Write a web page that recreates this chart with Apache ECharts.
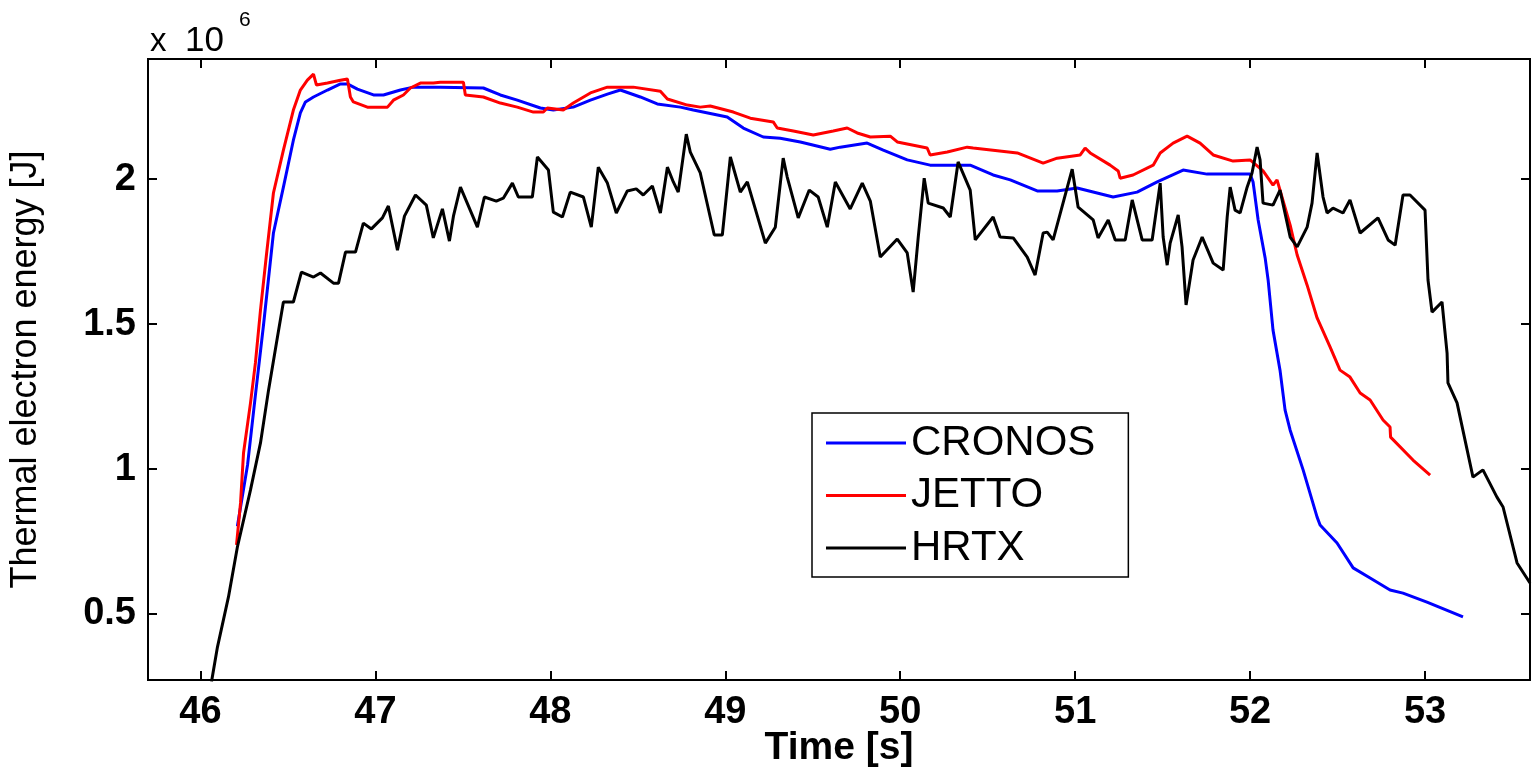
<!DOCTYPE html>
<html>
<head>
<meta charset="utf-8">
<script src="https://cdn.jsdelivr.net/npm/echarts@6/dist/echarts.min.js"></script>
<style>
  html, body { margin: 0; padding: 0; background: #fff; }
  #chart { width: 1533px; height: 768px; }
</style>
</head>
<body>
<div id="chart"></div>
<script>
// Thermal electron energy (units of 10^6 J) against time (s)
const cronosTime = [46.211, 46.269, 46.314, 46.36, 46.417, 46.474, 46.531, 46.571, 46.6, 46.646, 46.726, 46.8, 46.84, 46.897, 46.989, 47.046, 47.143, 47.217, 47.371, 47.617, 47.714, 47.811, 47.943, 48.017, 48.131, 48.229, 48.326, 48.4, 48.514, 48.611, 48.743, 48.817, 49.011, 49.103, 49.217, 49.314, 49.429, 49.6, 49.657, 49.811, 49.903, 50.04, 50.171, 50.4, 50.531, 50.629, 50.783, 50.897, 51.011, 51.217, 51.354, 51.469, 51.617, 51.754, 52.0, 52.017, 52.046, 52.086, 52.103, 52.131, 52.171, 52.2, 52.229, 52.303, 52.383, 52.4, 52.497, 52.589, 52.686, 52.8, 52.874, 53.011, 53.217];
const cronosEnergy = [0.803, 1.014, 1.255, 1.495, 1.814, 1.972, 2.134, 2.228, 2.266, 2.283, 2.307, 2.328, 2.328, 2.31, 2.29, 2.29, 2.307, 2.317, 2.317, 2.314, 2.29, 2.272, 2.245, 2.238, 2.248, 2.272, 2.293, 2.307, 2.283, 2.259, 2.248, 2.238, 2.214, 2.176, 2.145, 2.141, 2.128, 2.103, 2.11, 2.124, 2.1, 2.066, 2.048, 2.048, 2.014, 1.997, 1.959, 1.959, 1.969, 1.938, 1.955, 1.99, 2.031, 2.017, 2.017, 1.99, 1.859, 1.728, 1.652, 1.479, 1.341, 1.203, 1.134, 0.997, 0.834, 0.807, 0.745, 0.659, 0.624, 0.583, 0.572, 0.541, 0.49];

const jettoTime = [46.206, 46.229, 46.246, 46.286, 46.314, 46.343, 46.377, 46.417, 46.474, 46.531, 46.571, 46.611, 46.646, 46.663, 46.726, 46.8, 46.84, 46.857, 46.874, 46.954, 47.069, 47.103, 47.16, 47.2, 47.257, 47.331, 47.371, 47.503, 47.514, 47.617, 47.714, 47.811, 47.903, 47.96, 47.983, 48.074, 48.131, 48.229, 48.326, 48.474, 48.629, 48.669, 48.783, 48.857, 48.914, 49.046, 49.143, 49.274, 49.297, 49.389, 49.503, 49.617, 49.697, 49.754, 49.829, 49.943, 49.983, 50.154, 50.171, 50.269, 50.383, 50.417, 50.669, 50.817, 50.897, 51.029, 51.057, 51.086, 51.2, 51.246, 51.257, 51.331, 51.446, 51.486, 51.56, 51.64, 51.714, 51.789, 51.903, 52.0, 52.074, 52.131, 52.154, 52.171, 52.229, 52.269, 52.326, 52.383, 52.457, 52.514, 52.571, 52.629, 52.686, 52.76, 52.8, 52.803, 52.931, 53.029];
const jettoEnergy = [0.738, 0.883, 1.055, 1.228, 1.366, 1.548, 1.738, 1.952, 2.1, 2.238, 2.307, 2.341, 2.362, 2.324, 2.331, 2.341, 2.345, 2.283, 2.266, 2.248, 2.248, 2.272, 2.29, 2.314, 2.331, 2.331, 2.334, 2.334, 2.29, 2.283, 2.262, 2.248, 2.231, 2.231, 2.245, 2.238, 2.262, 2.297, 2.317, 2.317, 2.303, 2.276, 2.255, 2.248, 2.252, 2.231, 2.21, 2.197, 2.176, 2.166, 2.152, 2.166, 2.176, 2.159, 2.145, 2.148, 2.128, 2.107, 2.083, 2.093, 2.11, 2.107, 2.09, 2.055, 2.072, 2.083, 2.107, 2.09, 2.048, 2.028, 2.003, 2.014, 2.048, 2.09, 2.124, 2.148, 2.124, 2.083, 2.062, 2.066, 2.028, 1.979, 1.997, 1.962, 1.841, 1.738, 1.634, 1.521, 1.421, 1.341, 1.317, 1.262, 1.238, 1.169, 1.145, 1.11, 1.031, 0.979];

const hrtxTime = [46.063, 46.097, 46.16, 46.211, 46.286, 46.343, 46.389, 46.44, 46.474, 46.531, 46.577, 46.646, 46.686, 46.76, 46.789, 46.829, 46.886, 46.931, 46.977, 47.04, 47.074, 47.126, 47.166, 47.229, 47.291, 47.331, 47.383, 47.423, 47.446, 47.486, 47.583, 47.623, 47.691, 47.731, 47.783, 47.817, 47.897, 47.926, 47.989, 48.017, 48.069, 48.114, 48.189, 48.234, 48.274, 48.326, 48.377, 48.44, 48.491, 48.531, 48.583, 48.629, 48.669, 48.703, 48.731, 48.777, 48.8, 48.857, 48.937, 48.983, 49.029, 49.086, 49.126, 49.229, 49.286, 49.331, 49.354, 49.417, 49.48, 49.531, 49.583, 49.629, 49.714, 49.783, 49.829, 49.886, 49.983, 50.04, 50.074, 50.103, 50.137, 50.16, 50.246, 50.286, 50.331, 50.4, 50.429, 50.531, 50.571, 50.646, 50.726, 50.771, 50.817, 50.84, 50.874, 50.983, 51.017, 51.103, 51.131, 51.189, 51.229, 51.286, 51.326, 51.383, 51.44, 51.486, 51.503, 51.526, 51.543, 51.589, 51.611, 51.634, 51.674, 51.726, 51.789, 51.846, 51.869, 51.886, 51.914, 51.943, 51.983, 52.011, 52.04, 52.057, 52.074, 52.131, 52.171, 52.229, 52.269, 52.326, 52.354, 52.383, 52.417, 52.44, 52.474, 52.531, 52.571, 52.629, 52.731, 52.789, 52.829, 52.874, 52.914, 53.0, 53.017, 53.04, 53.097, 53.126, 53.131, 53.183, 53.274, 53.331, 53.411, 53.446, 53.526, 53.6];
const hrtxEnergy = [0.266, 0.386, 0.559, 0.731, 0.928, 1.09, 1.272, 1.455, 1.576, 1.576, 1.679, 1.662, 1.676, 1.641, 1.641, 1.748, 1.748, 1.848, 1.828, 1.866, 1.907, 1.755, 1.872, 1.945, 1.91, 1.797, 1.897, 1.786, 1.872, 1.972, 1.834, 1.938, 1.924, 1.934, 1.986, 1.938, 1.938, 2.076, 2.031, 1.886, 1.869, 1.955, 1.938, 1.834, 2.041, 1.986, 1.883, 1.959, 1.966, 1.945, 1.976, 1.883, 2.041, 1.99, 1.955, 2.155, 2.093, 2.021, 1.807, 1.807, 2.076, 1.955, 1.99, 1.779, 1.834, 2.072, 2.007, 1.866, 1.962, 1.938, 1.834, 1.99, 1.897, 1.986, 1.924, 1.731, 1.793, 1.745, 1.61, 1.8, 2.003, 1.917, 1.9, 1.869, 2.059, 1.962, 1.79, 1.869, 1.8, 1.797, 1.731, 1.669, 1.814, 1.817, 1.79, 2.034, 1.903, 1.859, 1.797, 1.859, 1.79, 1.79, 1.928, 1.79, 1.79, 1.986, 1.8, 1.703, 1.779, 1.876, 1.766, 1.566, 1.721, 1.8, 1.71, 1.686, 1.869, 1.972, 1.893, 1.883, 1.972, 2.021, 2.11, 2.066, 1.917, 1.91, 1.962, 1.8, 1.766, 1.834, 1.917, 2.09, 1.938, 1.883, 1.9, 1.883, 1.928, 1.814, 1.866, 1.79, 1.772, 1.945, 1.945, 1.893, 1.652, 1.541, 1.576, 1.4, 1.297, 1.228, 0.972, 0.997, 0.903, 0.869, 0.676, 0.607];

const timeTicks = [46, 47, 48, 49, 50, 51, 52, 53];
const energyTicks = [0.5, 1, 1.5, 2];

const pairs = (xs, ys) => xs.map((x, i) => [x, ys[i]]);

const FONT = 'Liberation Sans, Arial, Helvetica, sans-serif';
const xRange = { min: 45.7, max: 53.6 };
const yRange = { min: 0.2724, max: 2.414 };

const axisLineStyle = { show: true, lineStyle: { color: '#000', width: 2 } };
const tickStyle = (vals) => ({ show: true, inside: true, length: 9, customValues: vals, lineStyle: { color: '#000', width: 2 } });
const tickText = { color: '#000', fontFamily: FONT, fontSize: 38, fontWeight: 'bold' };

const chart = echarts.init(document.getElementById('chart'), null, { renderer: 'canvas' });
chart.setOption({
  animation: false,
  backgroundColor: '#fff',
  grid: {
    left: 148, top: 59, right: 3, bottom: 88,
    outerBoundsMode: 'none', containLabel: false,
    show: true, borderColor: '#000', borderWidth: 2, backgroundColor: '#fff'
  },
  xAxis: [
    {
      type: 'value', position: 'bottom', ...xRange,
      axisLine: axisLineStyle,
      axisTick: tickStyle(timeTicks),
      axisLabel: { customValues: timeTicks, margin: 14, ...tickText },
      splitLine: { show: false },
      name: 'Time [s]', nameLocation: 'middle', nameGap: 49, nameMoveOverlap: false,
      nameTextStyle: { color: '#000', fontFamily: FONT, fontSize: 39, fontWeight: 'bold' }
    },
    {
      type: 'value', position: 'top', ...xRange,
      axisLine: axisLineStyle,
      axisTick: tickStyle(timeTicks),
      axisLabel: { show: false },
      splitLine: { show: false }
    }
  ],
  yAxis: [
    {
      type: 'value', position: 'left', ...yRange,
      axisLine: axisLineStyle,
      axisTick: tickStyle(energyTicks),
      axisLabel: { customValues: energyTicks, margin: 12, ...tickText },
      splitLine: { show: false },
      name: 'Thermal electron energy [J]', nameLocation: 'middle', nameGap: 104, nameMoveOverlap: false,
      nameTextStyle: { color: '#000', fontFamily: FONT, fontSize: 36 }
    },
    {
      type: 'value', position: 'right', ...yRange,
      axisLine: axisLineStyle,
      axisTick: tickStyle(energyTicks),
      axisLabel: { show: false },
      splitLine: { show: false }
    }
  ],
  legend: {
    orient: 'vertical',
    left: 812, top: 413,
    data: ['CRONOS', 'JETTO', 'HRTX'],
    icon: 'rect',
    itemWidth: 80, itemHeight: 3, itemGap: 10.5,
    padding: [9, 33, 8, 14],
    borderColor: '#000', borderWidth: 1.5, backgroundColor: '#fff',
    textStyle: { color: '#000', fontFamily: FONT, fontSize: 42 },
    selectedMode: false
  },
  graphic: [
    { type: 'text', left: 150, top: 25, style: { text: 'x', fill: '#000', font: '33px ' + FONT } },
    { type: 'text', left: 185, top: 24, style: { text: '10', fill: '#000', font: '35px ' + FONT } },
    { type: 'text', left: 239, top: 10, style: { text: '6', fill: '#000', font: '21px ' + FONT } }
  ],
  series: [
    { name: 'CRONOS', type: 'line', data: pairs(cronosTime, cronosEnergy), showSymbol: false, symbol: 'none', lineStyle: { color: '#0000ff', width: 3 }, itemStyle: { color: '#0000ff' }, z: 3 },
    { name: 'JETTO', type: 'line', data: pairs(jettoTime, jettoEnergy), showSymbol: false, symbol: 'none', lineStyle: { color: '#ff0000', width: 3 }, itemStyle: { color: '#ff0000' }, z: 4 },
    { name: 'HRTX', type: 'line', data: pairs(hrtxTime, hrtxEnergy), showSymbol: false, symbol: 'none', lineStyle: { color: '#000', width: 3 }, itemStyle: { color: '#000' }, z: 5, clip: true }
  ]
});
</script>
</body>
</html>
